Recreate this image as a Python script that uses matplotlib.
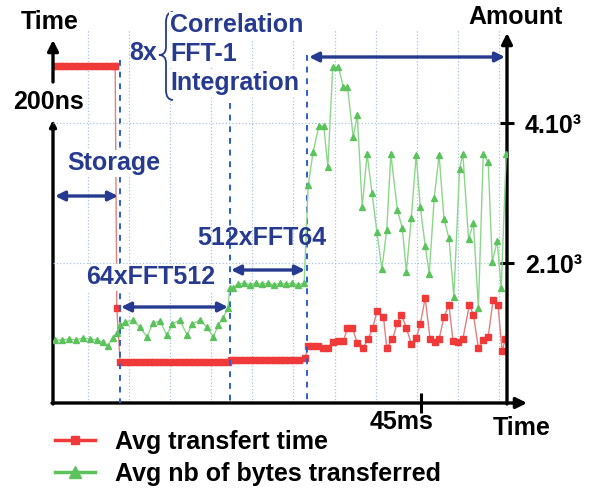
import matplotlib.pyplot as plt
from matplotlib.lines import Line2D
from matplotlib.path import Path
from matplotlib.patches import PathPatch

plt.rcParams['font.family'] = ['Liberation Sans', 'DejaVu Sans']
plt.rcParams['font.weight'] = 'bold'

# time in ms, red = avg transfer time (ns, left axis), green = avg bytes (right axis)
t_red = [0.2, 0.8, 1.4, 2.0, 2.6, 3.2, 3.8, 4.4, 5.0, 5.6, 6.2, 6.8, 7.4, 7.6,
         7.8, 8.2,
         8.8, 9.4, 10.0, 10.6, 11.2, 11.8, 12.4, 13.0, 13.6, 14.2, 14.8,
         15.4, 16.0, 16.6, 17.2, 17.8, 18.4, 19.0, 19.6, 20.2, 20.8, 21.4,
         21.7, 22.3, 22.9, 23.5, 24.1, 24.7, 25.3, 25.9, 26.5, 27.1, 27.7,
         28.3, 28.9, 29.5, 30.1, 30.8,
         31.2, 31.8, 32.4, 33.0, 33.6, 34.2, 34.9, 35.5, 36.0, 36.6, 37.2,
         37.9, 38.5, 39.1, 39.6, 40.4, 40.8, 41.5, 42.1, 42.6, 43.2, 43.8,
         44.4, 44.9, 45.5, 46.1, 46.7, 47.2, 47.8, 48.4, 48.9, 49.5, 50.1,
         50.9, 51.4, 52.0, 52.6, 53.2, 53.8, 54.4, 54.9, 55.3]
red_ns = [222, 222, 222, 222, 222, 222, 222, 222, 222, 222, 222, 222, 222, 222,
          62.7, 27.1,
          27.1, 27.1, 27.1, 27.1, 27.1, 27.1, 27.1, 27.1, 27.1, 27.1, 27.1,
          27.1, 27.1, 27.1, 27.1, 27.1, 27.1, 27.1, 27.1, 27.1, 27.1, 27.1,
          28.4, 28.4, 28.4, 28.4, 28.4, 28.4, 28.4, 28.4, 28.4, 28.4, 28.4,
          28.4, 28.4, 28.4, 28.4, 29.7,
          37.6, 37.6, 37.6, 36.3, 36.3, 40.3, 40.9, 40.9, 49.5, 49.5, 39.6,
          36.3, 42.2, 49.5, 60.7, 56.8, 36.3, 42.2, 52.8, 58.1, 49.5, 38.9,
          42.9, 52.1, 69.3, 42.2, 40.3, 42.2, 56.8, 64.7, 40.9, 40.3, 42.2,
          64.7, 58.1, 36.3, 41.6, 43.6, 68.0, 64.7, 34.3, 42.2]

t_green = [0.2, 1.1, 2.0, 2.8, 3.7, 4.5, 5.4, 6.1, 6.7, 7.3, 7.8, 8.2,
           8.8, 9.8, 10.6, 11.5, 12.2, 13.1, 13.9, 14.6, 15.5, 16.4, 17.0,
           18.0, 18.8, 19.6, 20.2, 20.8, 21.4, 21.6,
           22.0, 22.6, 23.4, 24.1, 24.8, 25.6, 26.3, 27.0, 27.8, 28.5, 29.2,
           30.0, 30.7,
           31.2, 31.8, 32.5, 33.1, 33.6, 34.2, 34.9, 35.5, 36.0, 36.7, 37.2,
           37.8, 38.4, 39.0, 39.6, 40.2, 40.8, 41.3, 42.1, 42.7, 43.2, 43.8,
           44.4, 44.9, 45.5, 46.0, 46.6, 47.2, 47.8, 48.4, 49.0, 49.7, 50.1,
           50.8, 51.4, 52.0, 52.6, 53.2, 53.7, 54.3, 54.8, 55.4]
green_bytes = [900, 900, 914, 900, 929, 914, 900, 871, 814, 929, 1000, 1114,
               1157, 1186, 1086, 943, 1143, 1171, 971, 1129, 1186, 971, 1129,
               1186, 1086, 943, 1114, 1214, 1357, 1643,
               1643, 1700, 1714, 1686, 1714, 1700, 1714, 1686, 1714, 1700, 1714,
               1686, 1714,
               3114, 3586, 3957, 3957, 3371, 4800, 4800, 4514, 4514, 3800, 4114,
               2800, 3557, 3000, 2443, 1914, 2471, 3557, 2757, 2500, 1871, 2643,
               3543, 2800, 2243, 1843, 2929, 3543, 2629, 2357, 1514, 3343, 3557,
               2343, 2571, 1357, 3557, 3443, 2014, 2314, 1643, 3557]

amount_ticks = [2000, 4000]
amount_labels = ['2.10³', '4.10³']
phase_bounds = [8.2, 21.6, 31.1]
phase_tops = [4900, 4286, 4971]

W, H = 602, 493
navy = '#263a8f'
dash_blue = '#2b5fd0'
grid_c = '#a9c3e0'


def px(x, y):
    return (x / W, 1 - y / H)


fig = plt.figure(figsize=(W / 100, H / 100), dpi=100)
ax = fig.add_axes([53 / W, 90 / H, 454 / W, 373 / H])
ax2 = ax.twinx()

ax.set_xlim(0, 55.5)
ax.set_ylim(0, 246)
ax2.set_ylim(0, 5329)
for a in (ax, ax2):
    for s in a.spines.values():
        s.set_visible(False)

# grid
ax.set_xticks([4.3 + 5.02 * k for k in range(11)], minor=True)
ax.grid(which='minor', axis='x', ls=':', lw=0.9, color=grid_c)
ax.set_xticks([45])
ax.set_xticklabels([''])
ax.tick_params(axis='x', which='major', direction='inout', length=14, width=2.2)
ax.tick_params(axis='x', which='minor', length=0)
ax.set_yticks([])
ax2.set_yticks(amount_ticks)
ax2.set_yticklabels(amount_labels, fontsize=18, fontweight='bold')
ax2.tick_params(axis='y', direction='inout', length=10, width=2.2, pad=8)
ax2.grid(axis='y', ls=':', lw=0.9, color=grid_c)

# phase separators
ax2.vlines(phase_bounds, phase_tops, 0, colors=dash_blue,
           linestyles=(0, (3, 3)), lw=1.4, zorder=1)

ax.plot(t_red, red_ns, color='#e08080', lw=1.0, marker='s', ms=3.8,
        mfc='#f03a3a', mec='#f03a3a', zorder=3)
ax2.plot(t_green, green_bytes, color='#8cd68c', lw=1.0, marker='^', ms=4.0,
         mfc='#5cc25c', mec='#5cc25c', zorder=3)

# axis lines with arrow heads
arrow_kw = dict(arrowstyle='-|>', lw=2.4, color='black', mutation_scale=16,
                shrinkA=0, shrinkB=0)
ax.annotate('', xy=px(527, 403), xytext=px(52, 403), xycoords='figure fraction',
            textcoords='figure fraction', arrowprops=arrow_kw)
ax.annotate('', xy=px(507, 33), xytext=px(507, 404), xycoords='figure fraction',
            textcoords='figure fraction', arrowprops=arrow_kw)
ax.annotate('', xy=px(53, 40), xytext=px(53, 82), xycoords='figure fraction',
            textcoords='figure fraction', arrowprops=arrow_kw)
ax.annotate('', xy=px(53, 120), xytext=px(53, 404), xycoords='figure fraction',
            textcoords='figure fraction',
            arrowprops=dict(arrow_kw, mutation_scale=9))

fig.text(*px(50, 22), 'Time', fontsize=18, ha='center', va='center')
fig.text(*px(49, 102), '200ns', fontsize=18, ha='center', va='center')
fig.text(*px(516, 17), 'Amount', fontsize=18, ha='center', va='center')
fig.text(*px(522, 428), 'Time', fontsize=18, ha='center', va='center')
fig.text(*px(402, 422), '45ms', fontsize=18, ha='center', va='center')

# phase annotations
dbl = dict(arrowstyle='<|-|>', lw=2.4, color=navy, mutation_scale=14,
           shrinkA=0, shrinkB=0)
for x0, x1, y in [(55, 118, 196), (121, 228, 307), (231, 305, 270), (309, 505, 57)]:
    ax.annotate('', xy=px(x1, y), xytext=px(x0, y), xycoords='figure fraction',
                textcoords='figure fraction', arrowprops=dbl)

wbox = dict(facecolor='white', edgecolor='none', pad=1)
fig.text(*px(114, 163), 'Storage', fontsize=18, color=navy, ha='center',
         va='center', bbox=wbox)
fig.text(*px(151, 277), '64xFFT512', fontsize=18, color=navy, ha='center',
         va='center', bbox=wbox)
fig.text(*px(262, 238), '512xFFT64', fontsize=18, color=navy, ha='center',
         va='center')
fig.text(*px(143, 53), '8x', fontsize=18, color=navy, ha='center', va='center')
for label, y in [('Correlation', 25), ('FFT-1', 54), ('Integration', 83)]:
    fig.text(*px(170, y), label, fontsize=18, color=navy, ha='left',
             va='center', bbox=wbox)

verts = [(173, 12), (166, 12), (166, 22), (166, 47), (166, 55), (159, 55),
         (166, 55), (166, 63), (166, 90), (166, 100), (173, 100)]
codes = [Path.MOVETO, Path.CURVE3, Path.CURVE3, Path.LINETO, Path.CURVE3,
         Path.CURVE3, Path.CURVE3, Path.CURVE3, Path.LINETO, Path.CURVE3,
         Path.CURVE3]
brace = PathPatch(Path([px(x, y) for x, y in verts], codes), fill=False,
                  edgecolor=navy, lw=1.3, transform=fig.transFigure)
fig.patches.append(brace)

handles = [Line2D([], [], color='#f03a3a', lw=2.5, marker='s', ms=6),
           Line2D([], [], color='#5cc25c', lw=2.5, marker='^', ms=8)]
fig.legend(handles, ['Avg transfert time', 'Avg nb of bytes transferred'],
           loc='upper left', bbox_to_anchor=px(55, 430), frameon=False,
           borderpad=0, borderaxespad=0, handlelength=1.6, handletextpad=0.8,
           labelspacing=0.3, prop=dict(size=18, weight='bold'))

fig.savefig('out.png', dpi=100)
